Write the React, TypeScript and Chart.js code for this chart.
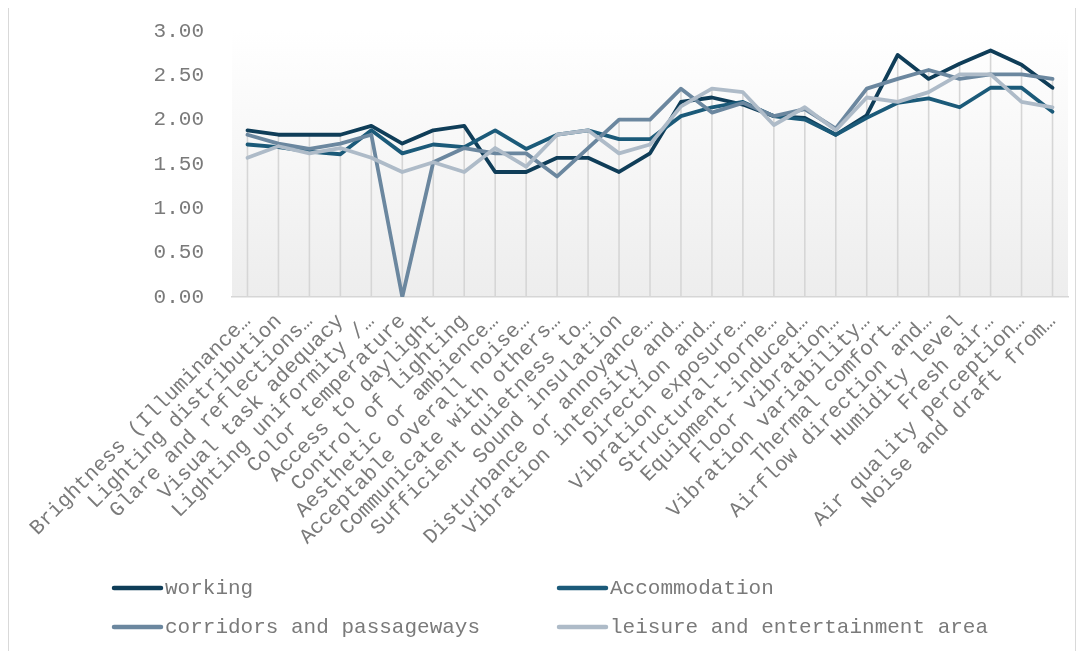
import React, { useEffect, useRef } from "react";
import { Chart, registerables } from "chart.js";

Chart.register(...registerables);

const FONT = '"Liberation Mono", "Courier New", monospace';
const TEXT_COLOR = "#7a7a7a";

const categories = [
  "Brightness (Illuminance…",
  "Lighting distribution",
  "Glare and reflections…",
  "Visual task adequacy",
  "Lighting uniformity /…",
  "Color temperature",
  "Access to daylight",
  "Control of lighting",
  "Aesthetic or ambience…",
  "Acceptable overall noise…",
  "Communicate with others…",
  "Sufficient quietness to…",
  "Sound insulation",
  "Disturbance or annoyance…",
  "Vibration intensity and…",
  "Direction and…",
  "Vibration exposure…",
  "Structural-borne…",
  "Equipment-induced…",
  "Floor vibration…",
  "Vibration variability…",
  "Thermal comfort…",
  "Airflow direction and…",
  "Humidity level",
  "Fresh air…",
  "Air quality perception…",
  "Noise and draft from…",
];

const working = [1.88, 1.83, 1.83, 1.83, 1.93, 1.73, 1.88, 1.93, 1.41, 1.41, 1.57, 1.57, 1.41, 1.62, 2.2, 2.25, 2.17, 2.04, 2.02, 1.83, 2.05, 2.73, 2.46, 2.63, 2.78, 2.62, 2.36];
const accommodation = [1.72, 1.69, 1.64, 1.61, 1.88, 1.62, 1.72, 1.69, 1.88, 1.67, 1.83, 1.88, 1.78, 1.78, 2.04, 2.14, 2.2, 2.04, 2.0, 1.83, 2.02, 2.19, 2.24, 2.14, 2.36, 2.36, 2.09];
const corridors = [1.83, 1.73, 1.67, 1.73, 1.83, 0, 1.52, 1.68, 1.62, 1.62, 1.36, 1.68, 2.0, 2.0, 2.35, 2.08, 2.19, 2.04, 2.12, 1.9, 2.35, 2.46, 2.56, 2.46, 2.51, 2.51, 2.46];
const leisure = [1.57, 1.7, 1.62, 1.68, 1.57, 1.41, 1.52, 1.41, 1.68, 1.47, 1.83, 1.88, 1.62, 1.72, 2.15, 2.35, 2.31, 1.94, 2.14, 1.88, 2.25, 2.2, 2.31, 2.51, 2.51, 2.2, 2.14];

const seriesNames = ["working", "Accommodation", "corridors and passageways", "leisure and entertainment area"];
const seriesColors = ["#0f3d58", "#1b5a79", "#6b879f", "#aebbc8"];
const seriesValues = [working, accommodation, corridors, leisure];

const yTicks = [0, 0.5, 1, 1.5, 2, 2.5, 3];

export default function App() {
  const ref = useRef<HTMLCanvasElement>(null);

  useEffect(() => {
    if (!ref.current) return;

    const bgPlugin = {
      id: "bgGradient",
      beforeDraw(chart: any) {
        const { ctx, chartArea: a } = chart;
        const g = ctx.createLinearGradient(0, a.top, 0, a.bottom);
        g.addColorStop(0, "#ffffff");
        g.addColorStop(1, "#ededed");
        ctx.save();
        ctx.fillStyle = g;
        ctx.fillRect(a.left, a.top, a.right - a.left, a.bottom - a.top);
        ctx.restore();
      },
    };

    const dropLines = {
      id: "dropLines",
      beforeDatasetsDraw(chart: any) {
        const { ctx, scales } = chart;
        const xs = scales.x;
        const ys = scales.y;
        ctx.save();
        ctx.strokeStyle = "#d6d6d6";
        ctx.lineWidth = 1.6;
        categories.forEach((_, i) => {
          const max = Math.max(...seriesValues.map((s) => s[i]));
          const px = xs.getPixelForValue(i);
          ctx.beginPath();
          ctx.moveTo(px, ys.getPixelForValue(max));
          ctx.lineTo(px, ys.getPixelForValue(0));
          ctx.stroke();
        });
        ctx.restore();
      },
    };

    const legendPlugin = {
      id: "gridLegend",
      afterDraw(chart: any) {
        const { ctx } = chart;
        const cols = [103, 548];
        const rows = [581, 620];
        ctx.save();
        ctx.font = `21px ${FONT}`;
        ctx.textBaseline = "middle";
        ctx.textAlign = "left";
        chart.data.datasets.forEach((ds: any, i: number) => {
          const x = cols[i % 2];
          const y = rows[Math.floor(i / 2)];
          ctx.strokeStyle = ds.borderColor;
          ctx.lineWidth = 4.5;
          ctx.lineCap = "round";
          ctx.beginPath();
          ctx.moveTo(x + 2, y);
          ctx.lineTo(x + 49, y);
          ctx.stroke();
          ctx.fillStyle = TEXT_COLOR;
          ctx.fillText(ds.label, x + 53, y);
        });
        ctx.restore();
      },
    };

    const chart = new Chart(ref.current, {
      type: "line",
      data: {
        labels: categories,
        datasets: seriesValues.map((vals, i) => ({
          label: seriesNames[i],
          data: vals,
          borderColor: seriesColors[i],
          backgroundColor: seriesColors[i],
          borderWidth: 3.8,
          pointRadius: 0,
          pointHoverRadius: 0,
          tension: 0,
          fill: false,
          borderJoinStyle: "round" as const,
          borderCapStyle: "round" as const,
          order: 4 - i,
        })),
      },
      options: {
        responsive: false,
        animation: false,
        layout: { padding: { top: 24, right: 7, bottom: 0, left: 0 } },
        plugins: {
          legend: { display: false },
          tooltip: { enabled: false },
          title: { display: false },
        },
        scales: {
          x: {
            type: "category",
            offset: true,
            grid: { display: false, offset: false },
            border: { display: true, color: "#d6d6d6", width: 1.6 },
            ticks: {
              autoSkip: false,
              maxRotation: 45,
              minRotation: 45,
              padding: 4,
              color: TEXT_COLOR,
              font: { family: FONT, size: 21 },
            },
            afterFit(scale: any) {
              scale.height = 354;
            },
          },
          y: {
            min: 0,
            max: 3,
            grid: { display: false },
            border: { display: false },
            afterBuildTicks(scale: any) {
              scale.ticks = yTicks.map((v) => ({ value: v }));
            },
            ticks: {
              padding: 20,
              color: TEXT_COLOR,
              font: { family: FONT, size: 21 },
              callback: (v: any) => Number(v).toFixed(2),
            },
            afterFit(scale: any) {
              scale.width = 223;
              scale.paddingTop = 0;
              scale.paddingBottom = 0;
            },
          },
        },
      },
      plugins: [bgPlugin, dropLines, legendPlugin],
    });

    return () => chart.destroy();
  }, []);

  return (
    <div
      style={{
        marginTop: -2,
        width: 1066,
        height: 644,
        borderTop: "1px solid #d9d9d9",
        borderLeft: "1px solid #d9d9d9",
        borderRight: "1px solid #d9d9d9",
        background: "#ffffff",
      }}
    >
      <canvas ref={ref} width={1066} height={644} style={{ display: "block", width: 1066, height: 644 }} />
    </div>
  );
}
